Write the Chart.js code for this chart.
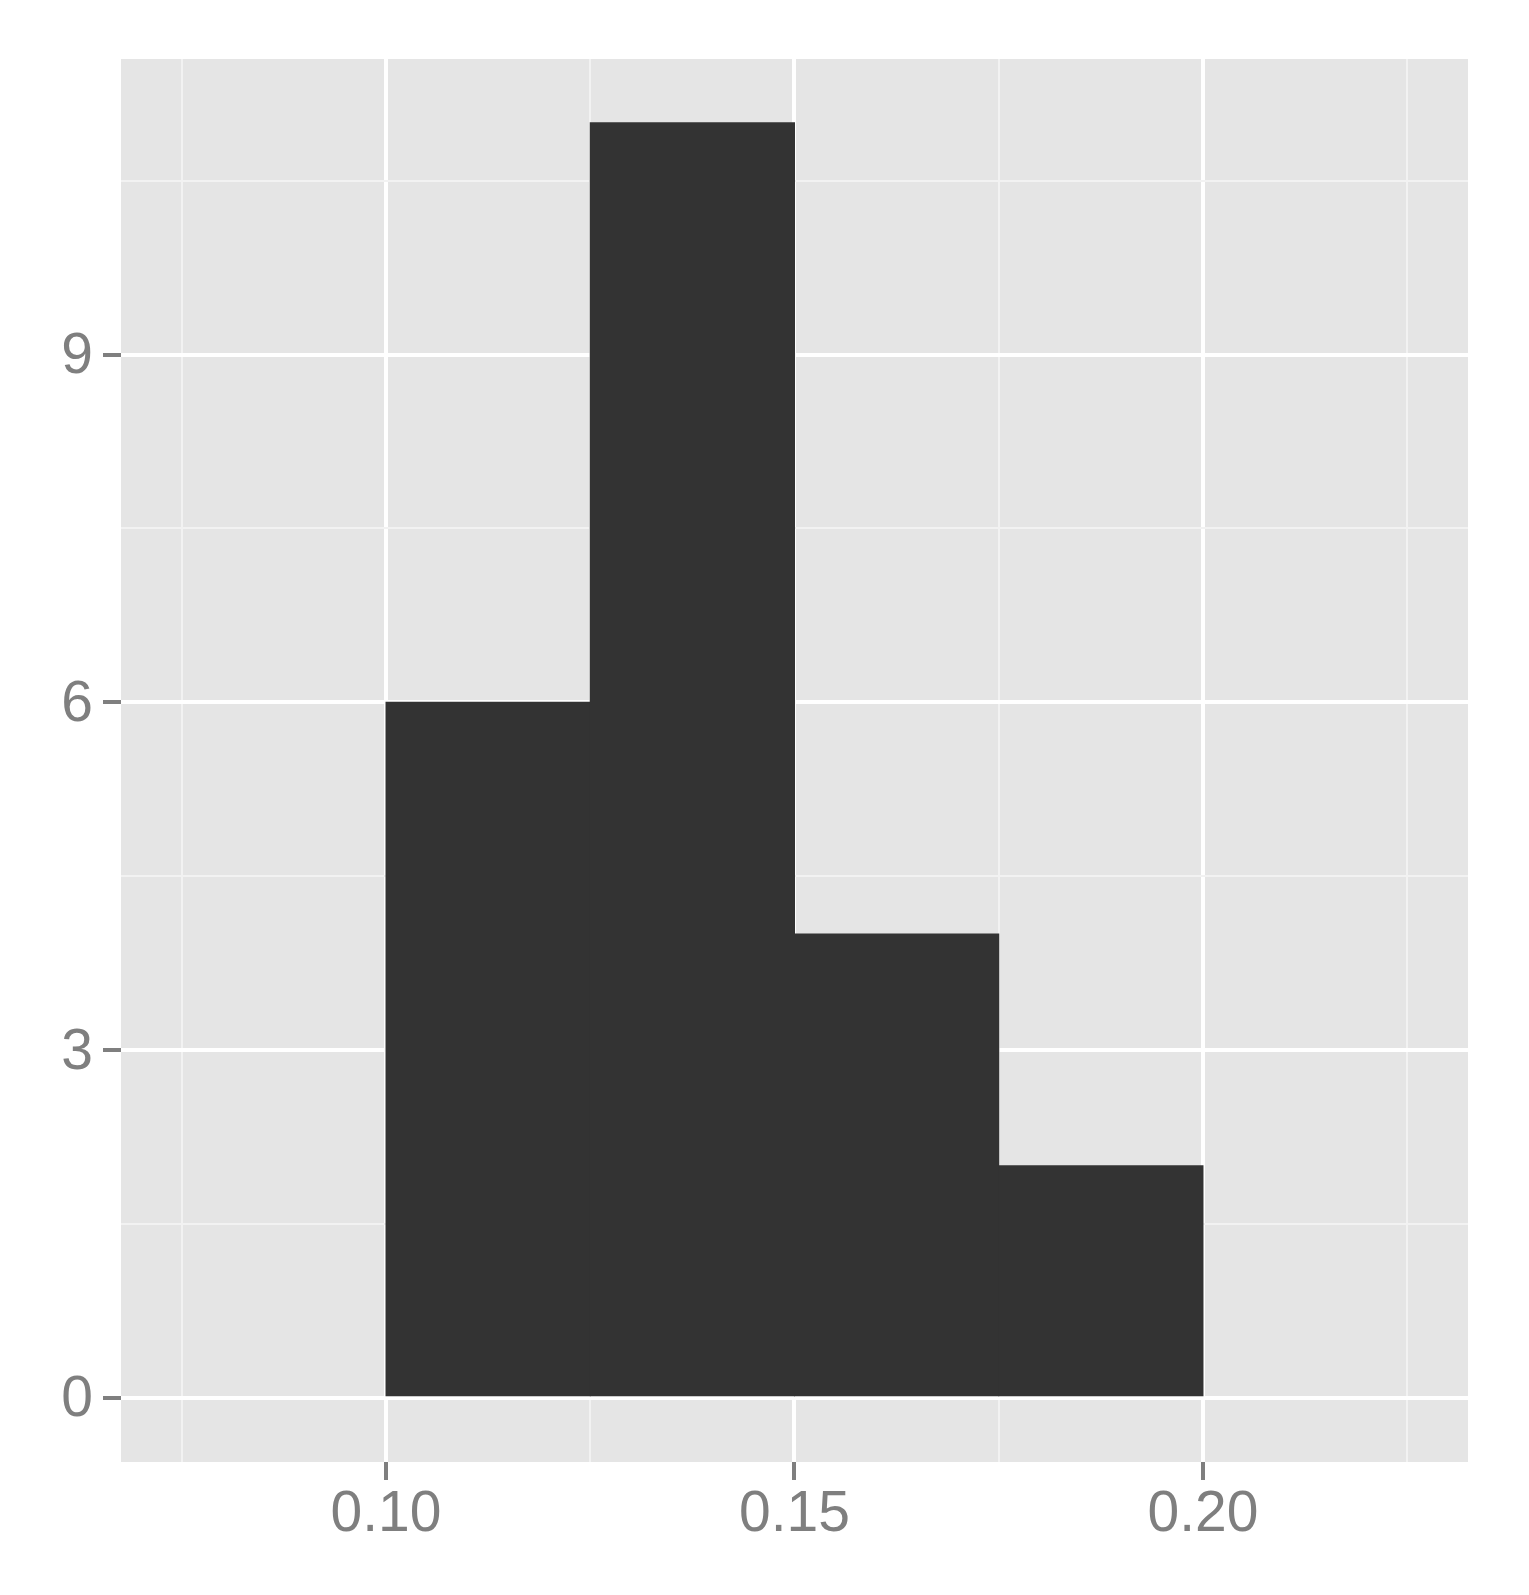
<!DOCTYPE html>
<html>
<head>
<meta charset="utf-8">
<script src="https://cdn.jsdelivr.net/npm/chart.js@4"></script>
<style>
  html, body { margin: 0; padding: 0; background: #ffffff; }
  #wrap { width: 1529px; height: 1595px; position: relative; }
</style>
</head>
<body>
<div id="wrap"><canvas id="hist"></canvas></div>
<script>
// histogram bins (binwidth 0.025) and counts
const binCenters = [0.1125, 0.1375, 0.1625, 0.1875];
const counts = [6, 11, 4, 2];

// grid positions: majors carry labels, minors sit halfway between
const xGrid = [0.075, 0.10, 0.125, 0.15, 0.175, 0.20, 0.225];
const xMajor = [0.10, 0.15, 0.20];
const yGrid = [0, 1.5, 3, 4.5, 6, 7.5, 9, 10.5];
const yMajor = [0, 3, 6, 9];

const GG = {
  panel: '#E5E5E5',
  major: '#FFFFFF',
  minor: '#F2F2F2',
  bar: '#333333',
  text: '#7F7F7F',
};

const isMajor = (list, v) => list.some((m) => Math.abs(m - v) < 1e-9);

const panelBg = {
  id: 'panelBg',
  beforeDraw(chart) {
    const { ctx, chartArea: a } = chart;
    ctx.save();
    ctx.fillStyle = GG.panel;
    ctx.fillRect(a.left, a.top, a.right - a.left, a.bottom - a.top);
    ctx.restore();
  },
};

function gridStyle(majors) {
  return {
    color: (c) => (c.tick && isMajor(majors, c.tick.value) ? GG.major : GG.minor),
    lineWidth: (c) => (c.tick && isMajor(majors, c.tick.value) ? 4 : 2),
    tickColor: (c) => (c.tick && isMajor(majors, c.tick.value) ? GG.text : 'rgba(0,0,0,0)'),
    tickWidth: 4,
    tickLength: 18,
    drawTicks: true,
    offset: false,
  };
}

new Chart(document.getElementById('hist').getContext('2d'), {
  type: 'bar',
  data: {
    datasets: [{
      data: binCenters.map((x, i) => ({ x: x, y: counts[i] })),
      backgroundColor: GG.bar,
      borderWidth: 0,
      inflateAmount: 0.5,
      barPercentage: 1,
      categoryPercentage: 1,
    }],
  },
  options: {
    responsive: true,
    maintainAspectRatio: false,
    animation: false,
    events: [],
    layout: { padding: { top: 59, right: 61, left: 0, bottom: 0 } },
    plugins: { legend: { display: false }, tooltip: { enabled: false } },
    scales: {
      x: {
        type: 'linear',
        offset: false,
        min: 0.06756,
        max: 0.23244,
        afterBuildTicks: (s) => { s.ticks = xGrid.map((v) => ({ value: v })); },
        afterFit: (s) => { s.height = 133; },
        border: { display: false },
        grid: gridStyle(xMajor),
        ticks: {
          autoSkip: false,
          maxRotation: 0,
          padding: 1,
          color: GG.text,
          font: { family: "'Liberation Sans', Arial, sans-serif", size: 57 },
          callback: (v) => (isMajor(xMajor, v) ? v.toFixed(2) : ''),
        },
      },
      y: {
        type: 'linear',
        min: -0.555,
        max: 11.55,
        afterBuildTicks: (s) => { s.ticks = yGrid.map((v) => ({ value: v })); },
        afterFit: (s) => { s.width = 121; },
        border: { display: false },
        grid: gridStyle(yMajor),
        ticks: {
          autoSkip: false,
          padding: 10,
          labelOffset: 3,
          color: GG.text,
          font: { family: "'Liberation Sans', Arial, sans-serif", size: 57 },
          callback: (v) => (isMajor(yMajor, v) ? String(v) : ''),
        },
      },
    },
  },
  plugins: [panelBg],
});
</script>
</body>
</html>
